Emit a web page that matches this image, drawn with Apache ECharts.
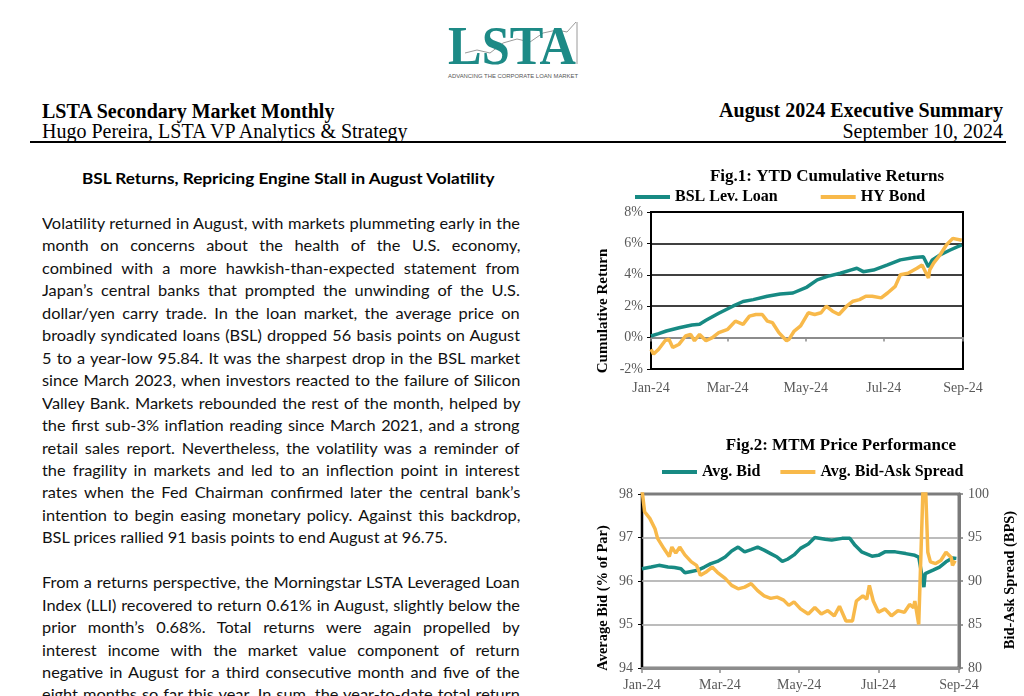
<!DOCTYPE html>
<html><head><meta charset="utf-8">
<script src="https://cdn.jsdelivr.net/npm/echarts@6/dist/echarts.min.js"></script>
<style>
html,body{margin:0;padding:0;background:#fff;width:1024px;height:696px;overflow:hidden;position:relative}
.abs{position:absolute;white-space:nowrap}
.serif{font-family:"Liberation Serif","Times New Roman",serif;color:#000;font-size:20px;line-height:20px}
.bl{position:absolute;left:42px;white-space:nowrap;font-family:Lato,"Open Sans",sans-serif;font-size:16px;color:#111;height:22px;line-height:22px}
.bl span{display:inline-block;transform-origin:0 50%}
#chart{position:absolute;left:0;top:0;width:1024px;height:696px}
</style></head><body>
<svg class="abs" style="left:0;top:0" width="1024" height="90">
  <polyline points="465,53 477,50 490,53 503,43 517,39 530,42 543,33 557,30 567,32 576,22" fill="none" stroke="#9a9a9a" stroke-width="1"/>
  <line x1="577" y1="22" x2="577" y2="64" stroke="#9a9a9a" stroke-width="1"/>
  <text x="448" y="64" font-family="Liberation Serif" font-weight="bold" font-size="54" fill="#1d8a86" textLength="128" lengthAdjust="spacingAndGlyphs">LSTA</text>
  <text x="448" y="78" font-family="Liberation Sans" font-size="6" fill="#555" textLength="130" lengthAdjust="spacingAndGlyphs">ADVANCING THE CORPORATE LOAN MARKET</text>
</svg>
<div class="abs serif" style="left:42px;top:101px;font-weight:bold">LSTA Secondary Market Monthly</div>
<div class="abs serif" style="left:42px;top:121px">Hugo Pereira, LSTA VP Analytics &amp; Strategy</div>
<div class="abs serif" style="right:21px;top:100px;font-weight:bold">August 2024 Executive Summary</div>
<div class="abs serif" style="right:21px;top:121px">September 10, 2024</div>
<div class="abs" style="left:30px;top:141px;width:976px;height:2px;background:#000"></div>
<div id="head" class="bl" style="top:167px;font-weight:bold;color:#000"><span>BSL Returns, Repricing Engine Stall in August Volatility</span></div>
<div id="body"></div>
<div id="chart"></div>
<script>
// ---------- text ----------
const para1Lines = [
"Volatility returned in August, with markets plummeting early in the",
"month on concerns about the health of the U.S. economy,",
"combined with a more hawkish-than-expected statement from",
"Japan\u2019s central banks that prompted the unwinding of the U.S.",
"dollar/yen carry trade. In the loan market, the average price on",
"broadly syndicated loans (BSL) dropped 56 basis points on August",
"5 to a year-low 95.84. It was the sharpest drop in the BSL market",
"since March 2023, when investors reacted to the failure of Silicon",
"Valley Bank. Markets rebounded the rest of the month, helped by",
"the first sub-3% inflation reading since March 2021, and a strong",
"retail sales report. Nevertheless, the volatility was a reminder of",
"the fragility in markets and led to an inflection point in interest",
"rates when the Fed Chairman confirmed later the central bank\u2019s",
"intention to begin easing monetary policy. Against this backdrop,",
"BSL prices rallied 91 basis points to end August at 96.75."
];
const para2Lines = [
"From a returns perspective, the Morningstar LSTA Leveraged Loan",
"Index (LLI) recovered to return 0.61% in August, slightly below the",
"prior month\u2019s 0.68%. Total returns were again propelled by",
"interest income with the market value component of return",
"negative in August for a third consecutive month and five of the",
"eight months so far this year. In sum, the year-to-date total return"
];

// ---------- chart data ----------
const xTickDates = ['2024-01-01','2024-03-01','2024-05-01','2024-07-01','2024-09-01'];
const xTickLabels = ['Jan-24','Mar-24','May-24','Jul-24','Sep-24'];
const fig1Names = ['BSL Lev. Loan','HY Bond'];
const fig2Names = ['Avg. Bid','Avg. Bid-Ask Spread'];

const bslReturn = [
['2024-01-01',0.1],['2024-01-07',0.25],['2024-01-13',0.42],['2024-01-23',0.63],['2024-02-02',0.8],
['2024-02-08',0.85],['2024-02-13',1.1],['2024-02-23',1.55],['2024-03-05',2.0],['2024-03-13',2.3],
['2024-03-21',2.42],['2024-04-01',2.63],['2024-04-11',2.78],['2024-04-21',2.84],['2024-05-02',3.22],
['2024-05-10',3.68],['2024-05-18',3.9],['2024-05-28',4.1],['2024-06-05',4.3],['2024-06-10',4.42],
['2024-06-15',4.2],['2024-06-23',4.3],['2024-07-04',4.63],['2024-07-14',4.95],['2024-07-25',5.1],
['2024-08-01',5.15],['2024-08-05',4.5],['2024-08-08',4.95],['2024-08-14',5.26],['2024-08-22',5.58],
['2024-08-31',5.9]
];
const hyReturn = [
['2024-01-01',-0.74],['2024-01-03',-1.05],['2024-01-07',-0.74],['2024-01-12',-0.2],['2024-01-15',-0.1],
['2024-01-18',-0.63],['2024-01-23',-0.42],['2024-01-28',0.1],['2024-02-01',0.2],['2024-02-04',-0.2],
['2024-02-08',0.2],['2024-02-13',-0.2],['2024-02-18',0.0],['2024-02-23',0.32],['2024-03-01',0.53],
['2024-03-07',1.05],['2024-03-13',0.84],['2024-03-18',1.37],['2024-03-23',1.47],['2024-03-28',1.47],
['2024-04-01',1.05],['2024-04-05',0.95],['2024-04-10',0.32],['2024-04-16',-0.2],['2024-04-18',-0.1],
['2024-04-22',0.42],['2024-04-27',0.74],['2024-05-03',1.58],['2024-05-08',1.47],['2024-05-13',1.58],
['2024-05-17',2.0],['2024-05-22',1.68],['2024-05-27',1.47],['2024-06-02',2.0],['2024-06-07',2.32],
['2024-06-12',2.42],['2024-06-17',2.63],['2024-06-22',2.63],['2024-06-29',2.53],['2024-07-04',2.84],
['2024-07-10',3.26],['2024-07-14',4.0],['2024-07-20',4.1],['2024-07-27',4.42],['2024-07-31',4.63],
['2024-08-05',3.79],['2024-08-06',4.32],['2024-08-09',4.74],['2024-08-14',5.26],['2024-08-19',5.9],
['2024-08-24',6.32],['2024-08-31',6.2]
];
const avgBid = [
['2024-01-01',96.28],['2024-01-08',96.32],['2024-01-14',96.36],['2024-01-21',96.32],['2024-01-26',96.31],
['2024-01-31',96.28],['2024-02-03',96.19],['2024-02-08',96.22],['2024-02-13',96.25],['2024-02-18',96.32],
['2024-02-23',96.4],['2024-02-28',96.45],['2024-03-05',96.55],['2024-03-10',96.69],['2024-03-15',96.78],
['2024-03-20',96.67],['2024-03-25',96.72],['2024-03-30',96.78],['2024-04-04',96.71],['2024-04-09',96.63],
['2024-04-14',96.55],['2024-04-18',96.45],['2024-04-22',96.5],['2024-04-27',96.6],['2024-05-02',96.75],
['2024-05-08',96.85],['2024-05-13',97.0],['2024-05-21',96.96],['2024-05-26',96.94],['2024-06-03',96.98],
['2024-06-09',96.98],['2024-06-13',96.82],['2024-06-18',96.67],['2024-06-26',96.57],['2024-07-01',96.59],
['2024-07-06',96.67],['2024-07-14',96.67],['2024-07-22',96.63],['2024-07-29',96.59],['2024-08-01',96.55],
['2024-08-05',95.86],['2024-08-06',96.17],['2024-08-12',96.25],['2024-08-17',96.32],['2024-08-22',96.44],
['2024-08-27',96.53],['2024-08-30',96.52]
];
const bidAskSpread = [
['2024-01-01',100.5],['2024-01-03',97.96],['2024-01-07',97.2],['2024-01-11',96.0],['2024-01-13',94.9],
['2024-01-18',93.7],['2024-01-22',92.8],['2024-01-24',93.9],['2024-01-27',93.2],['2024-01-30',93.9],
['2024-02-03',93.0],['2024-02-08',92.2],['2024-02-12',91.8],['2024-02-15',90.65],['2024-02-19',91.0],
['2024-02-24',91.6],['2024-02-28',91.0],['2024-03-05',90.3],['2024-03-10',89.5],['2024-03-15',89.1],
['2024-03-20',89.3],['2024-03-25',89.7],['2024-03-30',88.9],['2024-04-04',88.3],['2024-04-09',88.0],
['2024-04-14',88.15],['2024-04-19',87.8],['2024-04-23',87.2],['2024-04-27',87.6],['2024-05-02',86.8],
['2024-05-08',86.2],['2024-05-13',86.95],['2024-05-18',86.2],['2024-05-23',86.6],['2024-05-28',86.0],
['2024-06-01',87.1],['2024-06-06',85.4],['2024-06-11',85.4],['2024-06-14',87.7],['2024-06-19',88.3],
['2024-06-22',87.9],['2024-06-24',89.5],['2024-06-27',87.7],['2024-07-01',86.4],['2024-07-06',86.8],
['2024-07-11',86.0],['2024-07-16',86.6],['2024-07-21',86.4],['2024-07-25',87.3],['2024-07-28',86.95],
['2024-07-29',87.7],['2024-08-01',85.0],['2024-08-05',104],['2024-08-06',102],['2024-08-08',93.3],
['2024-08-10',92.2],['2024-08-14',92.0],['2024-08-18',92.35],['2024-08-22',93.3],['2024-08-26',92.7],
['2024-08-27',91.8],['2024-08-29',92.35]
];

// ---------- body text layout ----------
(function(){
  const body = document.getElementById('body');
  const lh = 22.45, top0 = 212, target = 478;
  const lines = [];
  para1Lines.forEach((s,i)=>lines.push({s, j: i < para1Lines.length-1}));
  lines.push(null);
  para2Lines.forEach((s)=>lines.push({s, j:true}));
  const els = [];
  lines.forEach((ln,i)=>{
    if(!ln) return;
    const d = document.createElement('div');
    d.className='bl'; d.style.top=(top0+lh*i)+'px';
    const sp = document.createElement('span'); sp.textContent = ln.s;
    d.appendChild(sp); body.appendChild(d); els.push({sp, ln});
  });
  const last = els[para1Lines.length-1].sp;
  const sc = 405 / last.offsetWidth;
  els.forEach(({sp,ln})=>{
    sp.style.transform = 'scaleX('+sc+')';
    if(ln.j){
      const n = (ln.s.match(/ /g)||[]).length;
      const w = sp.offsetWidth;
      sp.style.wordSpacing = ((target/sc - w)/n)+'px';
    }
  });
  const h = document.getElementById('head').firstChild;
  const hs = 413 / h.offsetWidth;
  h.style.transform = 'scaleX('+hs+')';
  document.getElementById('head').style.left = '82px';
})();

// ---------- chart ----------
function ts(s){const p=s.split('-').map(Number);return Date.UTC(p[0],p[1]-1,p[2]);}
const tickTs = xTickDates.map(ts);
const xMin = tickTs[0], xMax = tickTs[tickTs.length-1];
const fmtX = v => { const i = tickTs.findIndex(t=>Math.abs(t-v)<43200000); return i>=0 ? xTickLabels[i] : ''; };
const TEAL = '#178a83', ORANGE = '#f8b94a', GRAYTXT = '#595959';
const SERIF = '"Liberation Serif","Times New Roman",serif';
const lbl = {color:GRAYTXT, fontFamily:SERIF, fontSize:14};
const toPts = arr => arr.map(p=>[ts(p[0]), p[1]]);

const chart = echarts.init(document.getElementById('chart'), null, {renderer:'canvas'});
chart.setOption({
  animation:false,
  title:[
    {text:'Fig.1: YTD Cumulative Returns', left:827, top:168, textAlign:'center', padding:0,
     textStyle:{fontFamily:SERIF, fontSize:17, fontWeight:'bold', color:'#000'}},
    {text:'Fig.2: MTM Price Performance', left:841, top:437, textAlign:'center', padding:0,
     textStyle:{fontFamily:SERIF, fontSize:17, fontWeight:'bold', color:'#000'}}
  ],
  legend:[
    {data:fig1Names, left:635, top:189, padding:0, icon:'rect', itemWidth:35, itemHeight:4, itemGap:43,
     textStyle:{fontFamily:SERIF, fontSize:16, fontWeight:'bold', color:'#000'}},
    {data:fig2Names, left:662, top:464, padding:0, icon:'rect', itemWidth:35, itemHeight:4, itemGap:20,
     textStyle:{fontFamily:SERIF, fontSize:16, fontWeight:'bold', color:'#000'}}
  ],
  grid:[
    {left:651, top:212, width:312, height:157, show:true, borderColor:'#000', borderWidth:2, containLabel:false},
    {left:642, top:494, width:317, height:174, show:true, borderColor:'#000', borderWidth:2.5, containLabel:false}
  ],
  xAxis:[
    {gridIndex:0, type:'value', min:xMin, max:xMax,
     axisLine:{show:true, onZero:true, lineStyle:{color:'#8c8c8c', width:2}},
     axisTick:{show:true, customValues:tickTs, length:4, lineStyle:{color:'#8c8c8c', width:1.5}},
     axisLabel:{show:false}, splitLine:{show:false}},
    {gridIndex:0, type:'value', position:'bottom', min:xMin, max:xMax,
     axisLine:{show:false, onZero:false}, axisTick:{show:false}, splitLine:{show:false},
     axisLabel:Object.assign({customValues:tickTs, formatter:fmtX, margin:12, showMinLabel:true, showMaxLabel:true}, lbl)},
    {gridIndex:1, type:'value', min:xMin, max:xMax,
     axisLine:{show:true, onZero:false, lineStyle:{color:'#8c8c8c', width:3}},
     axisTick:{show:true, customValues:tickTs, length:5, lineStyle:{color:'#8c8c8c', width:1.5}},
     axisLabel:Object.assign({customValues:tickTs, formatter:fmtX, margin:10, showMinLabel:true, showMaxLabel:true}, lbl),
     splitLine:{show:false}}
  ],
  yAxis:[
    {gridIndex:0, type:'value', min:-2, max:8, interval:2,
     axisLine:{show:false}, axisTick:{show:true, length:4, lineStyle:{color:'#000'}},
     axisLabel:Object.assign({formatter:'{value}%', margin:8}, lbl),
     splitLine:{show:true, lineStyle:{color:['#000','rgba(0,0,0,0)','#000','#000','#000','#000'], width:1.5}}},
    {gridIndex:1, type:'value', min:94, max:98, interval:1,
     axisLine:{show:false}, axisTick:{show:true, length:4, lineStyle:{color:'#000'}},
     axisLabel:Object.assign({margin:9}, lbl),
     splitLine:{show:true, lineStyle:{color:'#a6a6a6', width:1.5}}},
    {gridIndex:1, type:'value', position:'right', min:80, max:100, interval:5,
     axisLine:{show:true, lineStyle:{color:'#7a7a7a', width:3}},
     axisTick:{show:true, length:4, lineStyle:{color:'#7a7a7a', width:1.5}},
     axisLabel:Object.assign({margin:9}, lbl), splitLine:{show:false}}
  ],
  graphic:[
    {type:'text', x:603, y:311, rotation:Math.PI/2,
     style:{text:'Cumulative Return', font:'bold 15px "Liberation Serif"', fill:'#000', align:'center', verticalAlign:'middle'}},
    {type:'text', x:603, y:598, rotation:Math.PI/2,
     style:{text:'Average Bid (% of Par)', font:'bold 14.5px "Liberation Serif"', fill:'#000', align:'center', verticalAlign:'middle'}},
    {type:'text', x:1010, y:580, rotation:Math.PI/2,
     style:{text:'Bid-Ask Spread (BPS)', font:'bold 14.5px "Liberation Serif"', fill:'#000', align:'center', verticalAlign:'middle'}}
  ],
  series:[
    {name:fig1Names[0], type:'line', xAxisIndex:0, yAxisIndex:0, data:toPts(bslReturn), showSymbol:false,
     lineStyle:{color:TEAL, width:3.5}, itemStyle:{color:TEAL}},
    {name:fig1Names[1], type:'line', xAxisIndex:0, yAxisIndex:0, data:toPts(hyReturn), showSymbol:false,
     lineStyle:{color:ORANGE, width:3.5}, itemStyle:{color:ORANGE}},
    {name:fig2Names[0], type:'line', xAxisIndex:2, yAxisIndex:1, data:toPts(avgBid), showSymbol:false,
     lineStyle:{color:TEAL, width:3.5}, itemStyle:{color:TEAL}},
    {name:fig2Names[1], type:'line', xAxisIndex:2, yAxisIndex:2, data:toPts(bidAskSpread), showSymbol:false, clip:true,
     lineStyle:{color:ORANGE, width:3.5}, itemStyle:{color:ORANGE}}
  ]
});
</script>
</body></html>
